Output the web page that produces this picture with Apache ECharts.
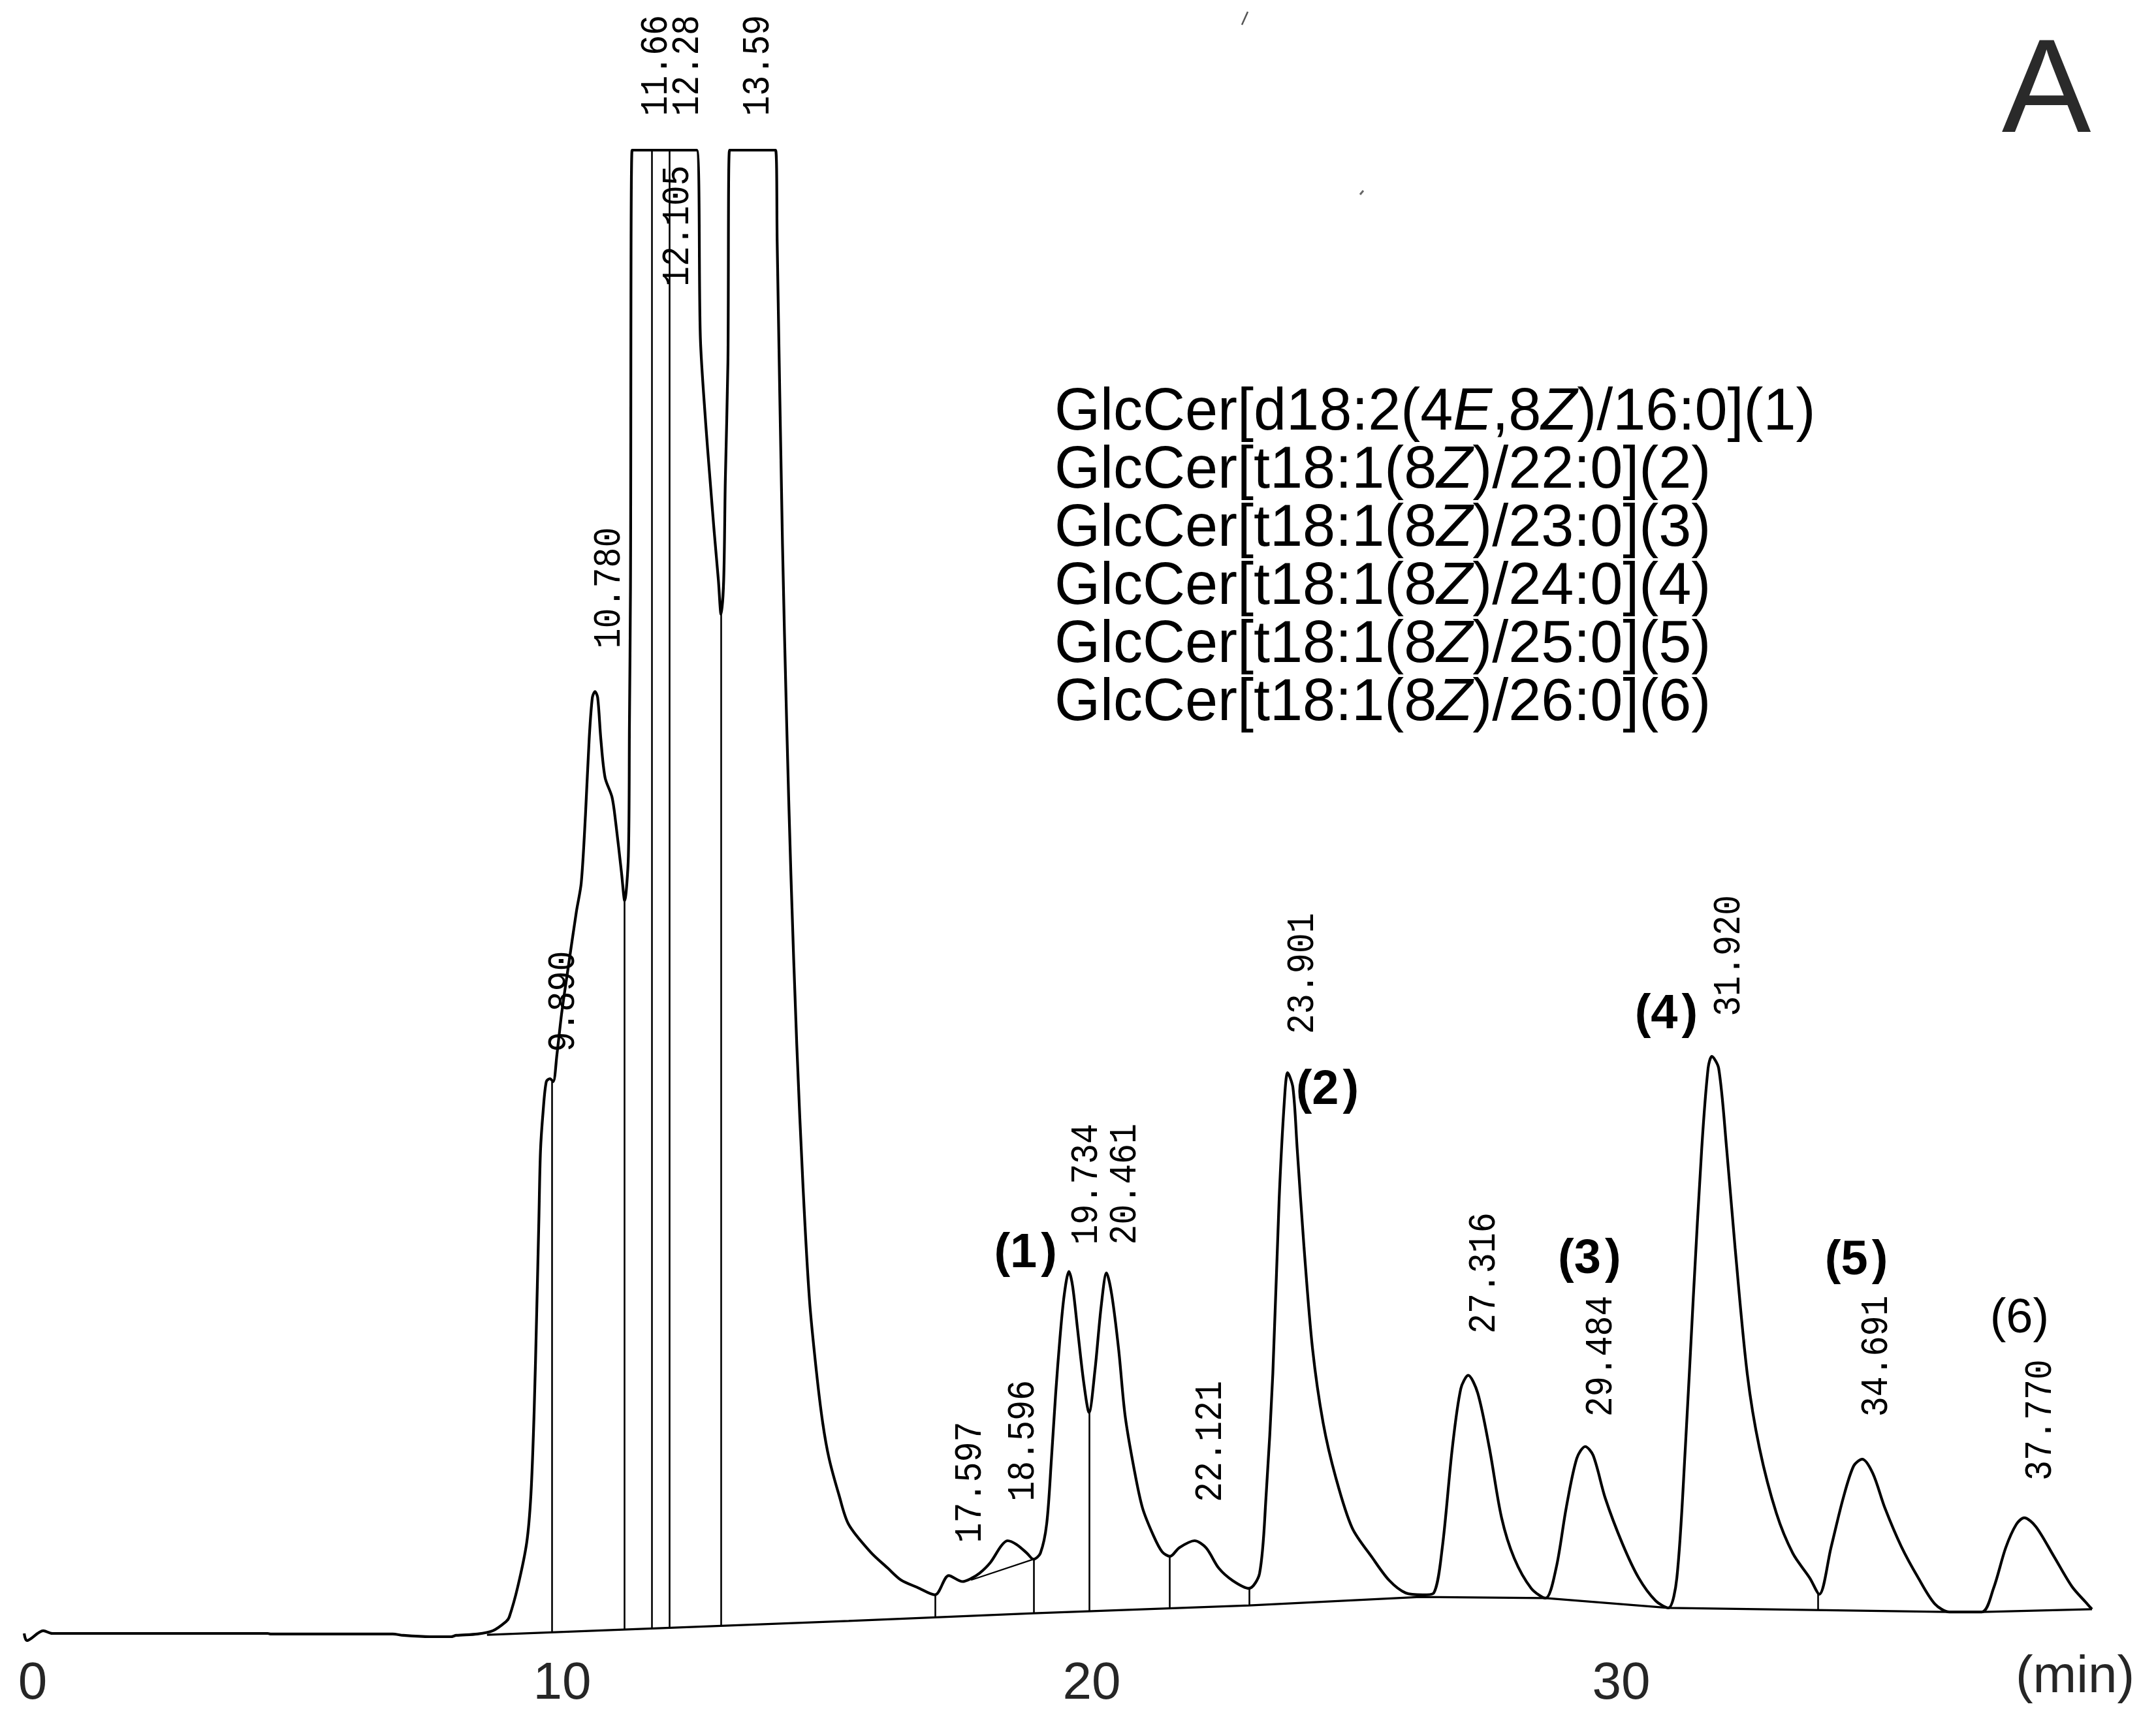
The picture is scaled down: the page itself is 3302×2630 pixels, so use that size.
<!DOCTYPE html>
<html><head><meta charset="utf-8">
<script src="https://cdn.jsdelivr.net/npm/echarts@6/dist/echarts.min.js"></script>
<style>html,body{margin:0;padding:0;background:#fff}#c{width:3302px;height:2630px}</style>
</head><body><div id="c"></div>
<script>
// ---- chromatogram trace (time in min, detector response in a.u.; clipped at 1000) ----
const traceT = [-0.16,-0.11,0.20,0.37,4.44,4.5,6.8,7.0,7.5,7.9,8.0,8.4,8.69,8.94,9.00,9.16,9.33,9.41,9.47,9.52,9.56,9.59,9.64,9.70,9.77,9.83,9.90,9.99,10.11,10.27,10.36,10.44,10.51,10.57,10.62,10.67,10.73,10.81,10.94,11.01,11.12,11.18,11.25,11.27,11.29,11.32,12.54,12.61,12.71,12.79,12.87,12.95,13.00,13.05,13.08,13.13,13.16,14.03,14.06,14.16,14.24,14.32,14.43,14.55,14.67,14.80,14.92,15.04,15.23,15.41,15.82,16.15,16.40,16.71,17.04,17.30,17.56,17.72,17.88,18.09,18.29,18.41,18.58,18.78,18.90,19.03,19.15,19.24,19.32,19.40,19.48,19.57,19.64,19.73,19.85,19.95,20.06,20.18,20.28,20.38,20.51,20.63,20.80,20.96,21.17,21.33,21.48,21.65,21.94,22.16,22.40,22.66,22.97,23.17,23.29,23.42,23.54,23.64,23.70,23.80,23.88,24.01,24.17,24.37,24.61,24.92,25.30,25.62,25.93,26.25,26.46,26.62,26.81,26.97,27.11,27.29,27.51,27.74,27.98,28.30,28.57,28.77,28.96,29.16,29.32,29.47,29.70,30.02,30.33,30.65,30.89,31.05,31.21,31.36,31.52,31.64,31.71,31.84,31.99,32.15,32.38,32.61,32.93,33.24,33.56,33.74,33.96,34.19,34.39,34.55,34.75,34.98,35.29,35.61,35.92,36.20,36.81,37.03,37.26,37.46,37.61,37.83,38.17,38.51,38.78,38.89];
const traceV = [0,-4.8,1.8,0,0,-0.4,-0.4,-1.3,-2.2,-2.2,-1.3,-0.4,1.8,8,11,31.3,61.2,93.8,149,218,279,325,352,372,374,372,390,418,448,487,506,552,603,631,635,631,603,577,564,547,513,494,524,612,705,1000,1000,873,816,779,743,710,687,710,776,857,1000,1000,938,735,613,511,397,300,225,177,142,118,93,73.5,55,44,36,31,26,39,35,37,40.5,48,59,62.5,60,54,50,54,74,118,162,199,228,244,234,206,169,149,177,221,243,228,191,147,111,84.5,65.6,55,52,57.7,62.5,57.7,44,35.7,30.4,40.5,91,175,293,360,378,368,327,260,192,142,105,71,51,35.7,27.3,26,27.3,57.7,125,165,174,162,125,78,50.6,30.4,23.8,44,84.5,118,126,120,91,60.7,37.4,22,17.2,37.4,125,226,327,381,389,381,327,260,175,125,81,54,37.4,26.4,57.7,91,113,117.5,108,84.5,58.5,37.4,20,14.5,14.5,30.4,57.7,73.5,78,72,52,31.7,20.7,16.3];

// ---- integration baseline, tangent skim and drop lines ----
const baseT = [8.58,15.41,18.90,22.97,26.20,28.57,30.89,36.20,36.81,38.89];
const baseV = [-0.9,8.4,13.6,18.9,24.6,23.8,17.2,14.5,14.5,16.3];
const skimT = [17.72,18.90];
const skimV = [36,50];
const dropT    = [9.80,11.18,11.69,12.03,13.00,17.04,18.90,19.95,21.47,22.97,33.72];
const dropLow  = [0.8,2.6,3.3,3.8,5.1,10.8,13.6,15.0,17.0,18.9,15.8];
const dropHigh = [372,494,1000,1000,687,26,50,149,52,30.4,26.4];

// ---- retention-time labels (text, anchor time, anchor value of label foot) ----
const peakText   = ['9.890','10.780','11.66','12.28','12.105','13.59','17.597','18.596','19.734','20.461','22.121','23.901','27.316','29.484','31.920','34.691','37.770'];
const peakLabelT = [10.02,10.89,11.78,12.37,12.19,13.70,17.71,18.71,19.90,20.63,22.24,23.99,27.41,29.62,32.03,34.82,37.92];
const peakLabelV = [392,664,1023,1023,908,1023,61,89,262,262,88.5,404,202,146,416,146,103];

// ---- compound numbers ----
const cmpNum  = ['1','2','3','4','5','6'];
const cmpT    = [18.75,24.45,29.40,30.85,34.44,37.52];
const cmpV    = [255.7,366,252,417,251,212];
const cmpBold = [true,true,true,true,true,false];

const legendLines = [
  'GlcCer[d18:2(4E,8Z)/16:0](1)',
  'GlcCer[t18:1(8Z)/22:0](2)',
  'GlcCer[t18:1(8Z)/23:0](3)',
  'GlcCer[t18:1(8Z)/24:0](4)',
  'GlcCer[t18:1(8Z)/25:0](5)',
  'GlcCer[t18:1(8Z)/26:0](6)'
];
const xTickValues = [0,10,20,30];
const xUnit = '(min)';
const panelLetter = 'A';

const SANS = '"Liberation Sans", Arial, "Noto Sans", sans-serif';
const MONO = '"Liberation Mono", "DejaVu Sans Mono", monospace';

const chart = echarts.init(document.getElementById('c'), null, {renderer:'canvas'});

const dropData = dropT.map((t,i)=>({coords:[[t,dropLow[i]],[t,dropHigh[i]]]}));

const legendText = legendLines.map(s => s.replace(/(\d)([EZ])/g, '$1{i|$2}')).join('\n');

const option = {
  animation:false,
  backgroundColor:'#ffffff',
  grid:{left:9.45, right:8, top:218.64, bottom:105.28, containLabel:false},
  xAxis:{
    type:'value', min:-0.5, max:40,
    axisLine:{show:false}, axisTick:{show:false}, splitLine:{show:false},
    axisLabel:{
      customValues:xTickValues,
      margin:15,
      color:'#262626', fontSize:80, fontFamily:SANS,
      formatter: v => String(v)
    }
  },
  yAxis:{type:'value', min:-10, max:1005, show:false, splitLine:{show:false}},
  series:[
    {
      type:'line', name:'trace', data: traceT.map((t,i)=>[t, traceV[i]]),
      showSymbol:false, symbol:'none', smooth:0.3, clip:true,
      lineStyle:{color:'#000', width:4.2}, z:5
    },
    {
      type:'line', name:'baseline', data: baseT.map((t,i)=>[t, baseV[i]]),
      showSymbol:false, symbol:'none', lineStyle:{color:'#000', width:3.2}, z:4
    },
    {
      type:'line', name:'skim', data: skimT.map((t,i)=>[t, skimV[i]]),
      showSymbol:false, symbol:'none', lineStyle:{color:'#000', width:2.2}, z:4
    },
    {
      type:'lines', coordinateSystem:'cartesian2d', data: dropData,
      lineStyle:{color:'#000', width:2.6, opacity:1}, z:4, silent:true
    },
    {
      type:'custom', coordinateSystem:'cartesian2d', clip:false, silent:true,
      data: peakText.map((s,i)=>[peakLabelT[i], peakLabelV[i], i]),
      encode:{x:0, y:1},
      renderItem:(params, api)=>{
        const i = api.value(2);
        const p = api.coord([api.value(0), api.value(1)]);
        return {type:'text', x:p[0], y:p[1], rotation:Math.PI/2, scaleX:0.86, scaleY:1,
          style:{text:peakText[i], fill:'#000', font:'60px ' + MONO, align:'left', verticalAlign:'middle'}};
      }, z:6
    },
    {
      type:'custom', coordinateSystem:'cartesian2d', clip:false, silent:true,
      data: cmpNum.map((s,i)=>[cmpT[i], cmpV[i], i]),
      encode:{x:0, y:1},
      renderItem:(params, api)=>{
        const i = api.value(2);
        const p = api.coord([api.value(0), api.value(1)]);
        const w = cmpBold[i] ? 'bold' : 'normal';
        return {type:'text', x:p[0], y:p[1],
          style:{text:'{p|(}{b|' + cmpNum[i] + '}{p|)}', align:'center', verticalAlign:'middle',
            rich:{
              p:{fontSize:74, fontFamily:SANS, fontWeight:w, fill:'#000'},
              b:{fontSize:74, fontFamily:SANS, fontWeight:w, fill:'#000', padding:[0, cmpBold[i]?6:0, 0, 0]}
            }}};
      }, z:6
    }
  ],
  graphic:[
    {type:'text', left:1615, top:588, z:10,
      style:{text:legendText, fill:'#000', fontSize:90, fontFamily:SANS, lineHeight:89,
        rich:{i:{fontSize:90, fontFamily:SANS, fontStyle:'italic', lineHeight:89, fill:'#000'}}}},
    {type:'text', x:3134, y:43, z:10,
      style:{text:panelLetter, fill:'#2a2a2a', font:'205px ' + SANS, align:'center', verticalAlign:'top'}},
    {type:'text', x:3178, y:2570, z:10,
      style:{text:xUnit, fill:'#262626', font:'80px ' + SANS, align:'center', verticalAlign:'middle'}},
    {type:'line', z:10, shape:{x1:1902, y1:38, x2:1911, y2:18}, style:{stroke:'#555', lineWidth:2.5}},
    {type:'line', z:10, shape:{x1:2083, y1:298, x2:2088, y2:292}, style:{stroke:'#666', lineWidth:3}}
  ]
};
chart.setOption(option);
</script>
</body></html>
